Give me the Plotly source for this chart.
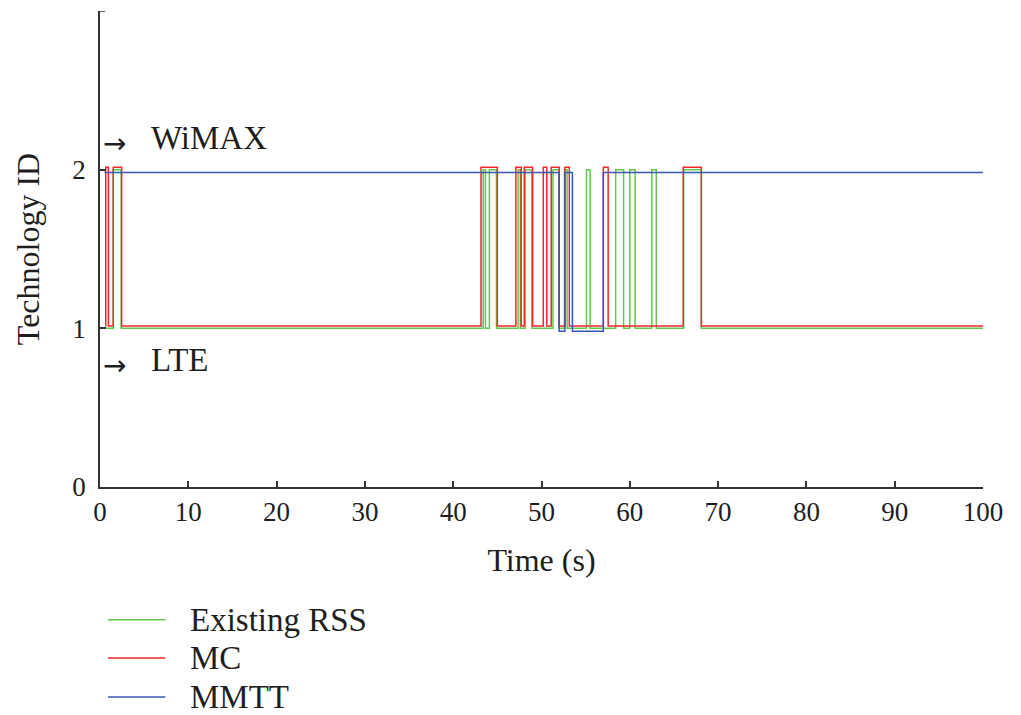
import plotly.graph_objects as go

# ---- data ----
rss_time = [0.7, 1.5, 2.4, 43.4, 43.65, 44.1, 44.9, 47.35, 47.6, 48.15, 48.9, 51.3, 52.0,
            52.6, 52.9, 55.1, 55.5, 58.4, 59.3, 60.0, 60.6, 62.5, 63.0, 66.1, 68.1, 100]
rss_tech = [1, 2, 1, 2, 1, 2, 1, 2, 1, 2, 1, 2, 1,
            2, 1, 2, 1, 2, 1, 2, 1, 2, 1, 2, 1, 1]

mc_time = [0.6, 0.65, 0.95, 1.5, 2.45, 43.15, 45.0, 47.1, 47.7, 48.05, 49.0, 50.2, 50.6,
           51.1, 52.0, 52.65, 53.15, 57.0, 57.55, 66.05, 68.1, 100]
mc_tech = [1, 2, 1, 2, 1, 2, 1, 2, 1, 2, 1, 2, 1,
           2, 1, 2, 1, 2, 1, 2, 1, 1]

mmtt_time = [0.5, 52.0, 52.65, 53.5, 57.0, 100]
mmtt_tech = [2, 1, 2, 1, 2, 2]

series_names = ["Existing RSS", "MC", "MMTT"]
tech_labels = ["LTE", "WiMAX"]
y_ticks = [0, 1, 2]
x_ticks = [0, 10, 20, 30, 40, 50, 60, 70, 80, 90, 100]

# ---- styles ----
colors = {"Existing RSS": "#62c94c", "MC": "#f2262b", "MMTT": "#3a58b2"}
offsets = {"Existing RSS": 0.0, "MC": 0.015, "MMTT": -0.018}
FONT = "Liberation Serif"
TXT = "#1e1e1e"

fig = go.Figure()
for name, t, v in [("Existing RSS", rss_time, rss_tech),
                   ("MC", mc_time, mc_tech),
                   ("MMTT", mmtt_time, mmtt_tech)]:
    fig.add_trace(go.Scatter(
        x=t, y=[val + offsets[name] for val in v], mode="lines", name=name,
        line=dict(color=colors[name], width=1.5, shape="hv"), showlegend=False))

# technology annotations with arrows
for label, ytxt in zip(tech_labels, [0.80, 2.2]):
    yarr = ytxt - 0.035
    fig.add_annotation(x=0.1, y=yarr, xref="x", yref="y", text="→", showarrow=False,
                       xanchor="left", yanchor="middle",
                       font=dict(family="DejaVu Sans", size=28, color=TXT))
    fig.add_annotation(x=5.6, y=ytxt, xref="x", yref="y", text=label, showarrow=False,
                       xanchor="left", yanchor="middle",
                       font=dict(family=FONT, size=33, color=TXT))

# manual legend below the plot
leg_y = [-0.279, -0.359, -0.441]
for name, ly in zip(series_names, leg_y):
    fig.add_shape(type="line", xref="paper", yref="paper", x0=0.009, x1=0.074, y0=ly, y1=ly,
                  line=dict(color=colors[name], width=1.5))
    fig.add_annotation(x=0.100, y=ly, xref="paper", yref="paper", text=name, showarrow=False,
                       xanchor="left", yanchor="middle",
                       font=dict(family=FONT, size=33, color=TXT))

# small top tick on y axis
fig.add_shape(type="line", xref="x", yref="y", x0=0, x1=0.6, y0=3, y1=3,
              line=dict(color="#333", width=1.5))

fig.update_layout(
    width=1013, height=707,
    margin=dict(l=92, r=38, t=3, b=228),
    paper_bgcolor="white", plot_bgcolor="white",
    font=dict(family=FONT, size=26, color=TXT),
    showlegend=False,
)
fig.update_xaxes(range=[0, 100], tickvals=x_ticks, ticks="inside", ticklen=6,
                 tickwidth=1.5, tickcolor="#333", showline=True, linecolor="#333",
                 linewidth=1.5, showgrid=False, zeroline=False,
                 title=dict(text="Time (s)", standoff=22, font=dict(size=32)),
                 tickfont=dict(size=27))
fig.update_yaxes(range=[0, 3], tickvals=y_ticks, ticks="inside", ticklen=6,
                 tickwidth=1.5, tickcolor="#333", showline=True, linecolor="#333",
                 linewidth=1.5, showgrid=False, zeroline=False, ticklabelstandoff=7,
                 title=dict(text="Technology ID", standoff=23, font=dict(size=32)),
                 tickfont=dict(size=27))

fig.write_html("out.html")
